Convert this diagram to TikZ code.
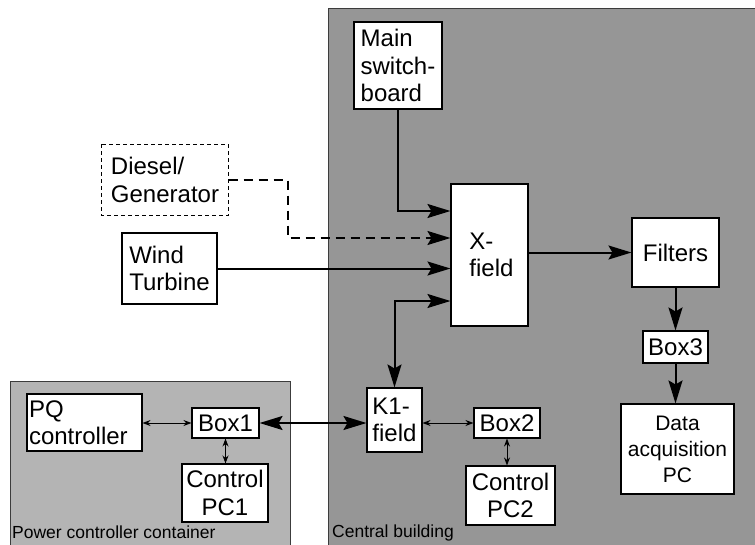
\documentclass[tikz,border=0pt]{standalone}
\usepackage{fontspec}
\setmainfont{Liberation Sans}
\usetikzlibrary{arrows.meta,calc}
\definecolor{bldg}{RGB}{150,150,150}
\definecolor{cont}{RGB}{180,180,180}
\definecolor{edge}{RGB}{60,60,60}
\tikzset{
  unit/.style={x=1pt,y=-1pt},
  boxnode/.style={draw=black,fill=white,line width=1.1pt,inner sep=2pt,
    font=\fontsize{24}{27.5}\selectfont,align=left},
  smallbox/.style={boxnode,font=\fontsize{21}{26}\selectfont,align=center},
  area/.style={draw=edge,line width=0.9pt},
  arealabel/.style={font=\fontsize{17.5}{20}\selectfont,anchor=base west,inner sep=0pt},
  bigtip/.tip={Stealth[length=23pt,width=14pt,inset=4pt]},
  smalltip/.tip={Stealth[length=8pt,width=6pt]},
  bigarrow/.style={line width=2pt,-bigtip},
  bigboth/.style={line width=2pt,bigtip-bigtip},
  thinboth/.style={line width=0.9pt,smalltip-smalltip},
  dashline/.style={line width=2pt,dash pattern=on 9pt off 6pt}
}
\begin{document}
\begin{tikzpicture}[unit]
\useasboundingbox (0,0) rectangle (755,544);
% areas
\draw[area,fill=bldg] (328,8) rectangle (760,550);
\draw[area,fill=cont] (10,381) rectangle (290,550);
\node[arealabel] (lblpc) at (12,538) {Power controller container};
\node[arealabel] (lblcb) at (332,537) {Central building};
% nodes
\node[boxnode,minimum width=88pt,minimum height=87pt] (msb) at (398,65.5) {Main\\switch-\\board};
\node[boxnode,draw=none,minimum width=126pt,minimum height=70pt] (dg) at (165,180) {Diesel/\\Generator};
\draw[line width=1.1pt,dash pattern=on 4pt off 3pt] (dg.north west) rectangle (dg.south east);
\node[boxnode,minimum width=95pt,minimum height=71pt] (wt) at (169.5,268.5) {Wind\\Turbine};
\node[boxnode,minimum width=77pt,minimum height=142pt] (xf) at (489.5,255) {\hspace*{4pt}X-\\\hspace*{4pt}field};
\node[boxnode,align=center,minimum width=87pt,minimum height=69pt] (fil) at (675.5,252.5) {Filters};
\node[boxnode,align=center,minimum width=65pt,minimum height=32pt] (b3) at (675.5,347) {Box3};
\node[smallbox,minimum width=113pt,minimum height=90pt] (daq) at (677.5,449) {Data\\acquisition\\PC};
\node[boxnode,minimum width=55pt,minimum height=64pt] (k1) at (394.5,420) {K1-\\field};
\node[boxnode,align=center,minimum width=66pt,minimum height=30pt] (b2) at (507,423) {Box2};
\node[boxnode,align=center,minimum width=89pt,minimum height=59pt] (cpc2) at (510.5,495.5) {Control\\PC2};
\node[boxnode,inner xsep=2pt,text width=111pt,minimum height=57pt] (pq) at (84.5,422.5) {PQ\\controller};
\node[boxnode,align=center,minimum width=67pt,minimum height=30pt] (b1) at (225.5,423) {Box1};
\node[boxnode,align=center,minimum width=86pt,minimum height=58pt] (cpc1) at (225,493) {Control\\PC1};
% connectors
\coordinate (dgturn) at (288,180);
\draw[bigarrow] (msb.south) |- ($(xf.west)+(0,-44)$);
\draw[dashline,-bigtip] (dg.east) -- (dgturn) |- ($(xf.west)+(0,-17)$);
\draw[bigarrow] (wt.east) -- (wt.east -| xf.west);
\draw[bigboth] (k1.north) |- ($(xf.west)+(0,46)$);
\draw[bigarrow] (fil.west -| xf.east) -- (fil.west);
\draw[bigarrow] (fil.south) -- (b3.north);
\draw[bigarrow] (b3.south) -- (b3.south |- daq.north);
\draw[bigboth] (b1.east) -- (b1.east -| k1.west);
\draw[thinboth] (pq.east |- b1.west) -- (b1.west);
\draw[thinboth] (b1.south) -- (b1.south |- cpc1.north);
\draw[thinboth] (b2.west -| k1.east) -- (b2.west);
\draw[thinboth] (b2.south) -- (b2.south |- cpc2.north);
\end{tikzpicture}
\end{document}
